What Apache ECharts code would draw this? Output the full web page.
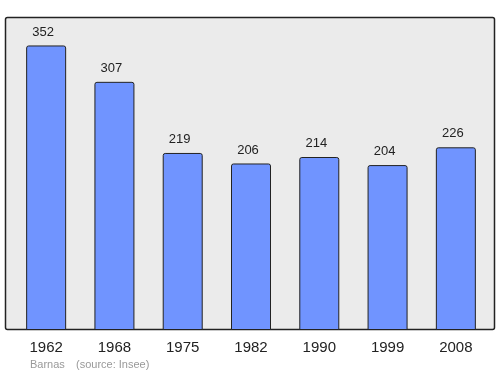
<!DOCTYPE html>
<html><head><meta charset="utf-8">
<script src="https://cdn.jsdelivr.net/npm/echarts@6/dist/echarts.min.js"></script>
<style>html,body{margin:0;padding:0;background:#fff}#c{width:500px;height:374px}</style>
</head><body><div id="c"></div>
<script>
var years = ['1962','1968','1975','1982','1990','1999','2008'];
var population = [352,307,219,206,214,204,226];
var commune = 'Barnas';
var source = '(source: Insee)';

var chart = echarts.init(document.getElementById('c'), null, {renderer:'canvas'});
chart.setOption({
  animation: false,
  graphic: [
    {type:'rect', z:-10, shape:{x:5.5,y:17.5,width:489,height:312,r:2}, style:{fill:'#ebebeb',stroke:'#222',lineWidth:1.5}},
    {type:'text', left:30, top:359, style:{text:commune, fill:'#999', font:'11px "Liberation Sans", Arial, sans-serif'}},
    {type:'text', left:76, top:359, style:{text:source, fill:'#999', font:'11px "Liberation Sans", Arial, sans-serif'}}
  ],
  grid: {left:12, right:10, top:17, bottom:44, containLabel:false},
  xAxis: {
    type:'category', data:years,
    axisLine:{show:false}, axisTick:{show:false},
    axisLabel:{color:'#222', fontSize:15, fontFamily:'"Liberation Sans", Arial, sans-serif', margin:10}
  },
  yAxis: {type:'value', min:0, max:387.2, show:false, splitLine:{show:false}},
  series: [{
    type:'bar', data:population, barWidth:40,
    itemStyle:{color:'#7094ff', borderColor:'#222', borderWidth:1, borderRadius:[2,2,0,0]},
    label:{show:true, position:'top', distance:7, offset:[-3,0], color:'#222', fontSize:13, fontFamily:'"Liberation Sans", Arial, sans-serif'}
  }]
});
</script></body></html>
